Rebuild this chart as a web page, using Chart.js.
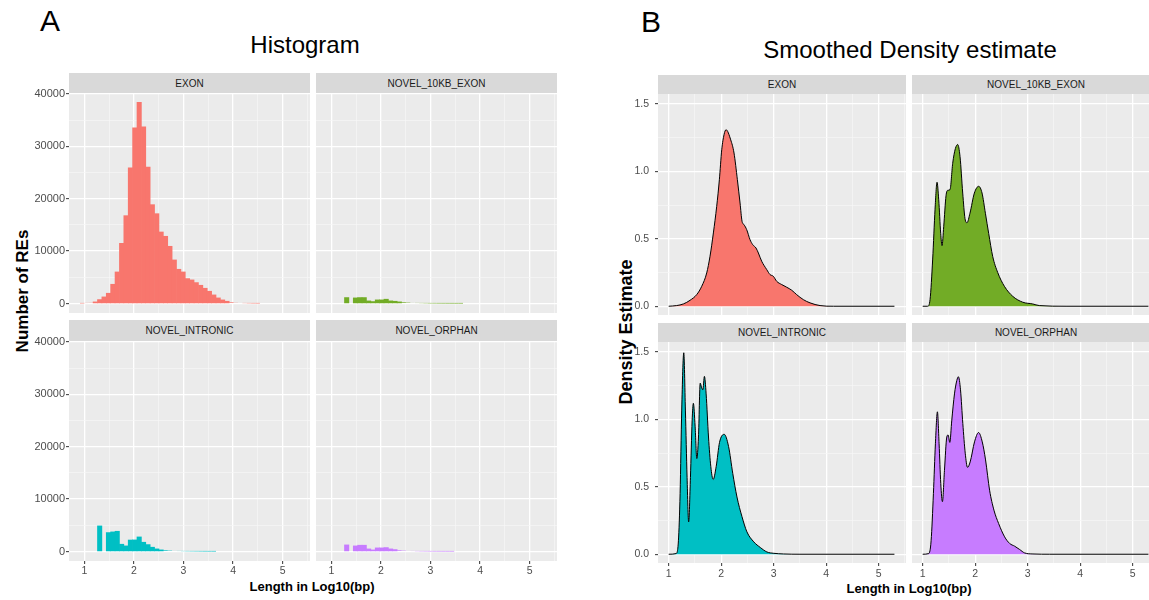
<!DOCTYPE html>
<html><head><meta charset="utf-8">
<script src="https://cdn.jsdelivr.net/npm/chart.js@4/dist/chart.umd.min.js"></script>
<style>
html,body{margin:0;padding:0;background:#fff;width:1149px;height:600px;overflow:hidden;font-family:"Liberation Sans",Arial,sans-serif;position:relative;}
.t{position:absolute;white-space:nowrap;line-height:1;transform:translate(-50%,-50%);color:#000;}
.strip{position:absolute;background:#D9D9D9;color:#1A1A1A;font-size:10px;display:flex;align-items:center;justify-content:center;}
canvas{position:absolute;}
</style></head><body>
<script>
// ---------- DATA ----------
const facets = ['EXON','NOVEL_10KB_EXON','NOVEL_INTRONIC','NOVEL_ORPHAN'];
const colors = ['#F8766D','#72AC26','#00BFC4','#C77CFF'];

const binCenters = [0.9560,1.0445,1.1330,1.2215,1.3100,1.3985,1.4870,1.5755,1.6640,1.7525,
  1.8410,1.9295,2.0180,2.1065,2.1950,2.2835,2.3720,2.4605,2.5490,2.6375,
  2.7260,2.8145,2.9030,2.9915,3.0800,3.1685,3.2570,3.3455,3.4340,3.5225,
  3.6110,3.6995,3.7880,3.8765,3.9650,4.0535,4.1420,4.2305,4.3190,4.4075,
  4.4960,4.5845,4.6730,4.7615,4.8500,4.9385,5.0270,5.1155,5.2040,5.2925];

const histExon = [30,100,150,320,760,1270,1970,3680,6030,11490,
  16760,25900,33520,38350,33710,26030,18860,17140,13650,12830,
  10920,8320,6540,6030,4760,4510,4000,3490,2920,2350,
  1650,1080,700,440,250,150,120,80,50,30,
  20,0,0,0,0,0,0,0,0,0];
const histNovel10kb = [0,0,0,0,1143,0,1080,1143,1143,508,
  380,700,700,830,510,440,320,250,190,130,
  100,80,60,40,30,20,15,10,8,5,
  4,0,0,0,0,0,0,0,0,0,
  0,0,0,0,0,0,0,0,0,0];
const histIntronic = [0,0,0,0,4890,0,3620,3750,3870,1400,
  1080,2200,2220,2790,1780,1330,830,510,320,250,
  190,130,100,80,60,50,40,30,20,15,
  10,0,0,0,0,0,0,0,0,0,
  0,0,0,0,0,0,0,0,0,0];
const histOrphan = [0,0,0,0,1270,0,1080,1210,1210,508,
  318,700,700,762,510,380,250,190,130,100,
  70,50,40,30,20,15,10,8,5,0,
  0,0,0,0,0,0,0,0,0,0,
  0,0,0,0,0,0,0,0,0,0];

const densExonX = [1.0,1.152,1.279,1.406,1.533,1.629,1.724,1.787,1.851,1.914,1.965,2.01,2.054,2.092,
  2.181,2.244,2.308,2.359,2.397,2.435,2.486,2.549,2.6,2.663,2.708,2.771,2.867,2.93,2.994,3.057,
  3.152,3.248,3.343,3.438,3.565,3.692,3.883,4.137,5.3];
const densExonY = [0,0.005,0.017,0.044,0.086,0.148,0.247,0.371,0.544,0.741,0.939,1.161,1.273,1.31,
  1.235,1.137,0.939,0.766,0.63,0.605,0.568,0.494,0.457,0.432,0.395,0.334,0.272,0.235,0.222,0.185,
  0.161,0.141,0.119,0.086,0.049,0.025,0.005,0,0];

const dens10kbX = [1.0,1.095,1.14,1.19,1.235,1.273,1.305,1.343,1.368,1.4,1.444,1.476,1.52,1.571,1.622,1.667,
  1.711,1.762,1.806,1.844,1.9,1.984,2.067,2.13,2.194,2.257,2.333,2.429,2.556,2.714,2.905,3.095,3.22,3.73,5.3];
const dens10kbY = [0,0,0.05,0.35,0.72,0.92,0.79,0.54,0.45,0.59,0.82,0.86,0.865,1.06,1.17,1.2,
  1.11,0.84,0.65,0.62,0.69,0.84,0.89,0.84,0.69,0.54,0.37,0.25,0.148,0.074,0.03,0.017,0.005,0,0];

const densIntronicX = [1.0,1.14,1.185,1.217,1.248,1.287,1.318,1.35,1.38,1.414,1.446,1.47,1.503,1.535,1.567,1.6,1.624,
  1.65,1.68,1.713,1.758,1.802,1.847,1.904,1.968,2.057,2.14,2.22,2.3,2.395,2.49,2.62,2.745,2.87,3.0,3.19,3.5,5.3];
const densIntronicY = [0,0.005,0.1,0.45,1.07,1.495,1.07,0.57,0.24,0.57,0.99,1.12,0.95,0.71,0.87,1.27,1.24,
  1.22,1.32,1.19,0.87,0.65,0.555,0.65,0.83,0.89,0.8,0.6,0.425,0.28,0.166,0.092,0.05,0.017,0.007,0.002,0,0];

const densOrphanX = [1.0,1.115,1.16,1.204,1.242,1.28,1.312,1.344,1.376,1.414,1.459,1.484,1.516,1.554,1.605,1.65,1.68,
  1.72,1.764,1.81,1.853,1.904,1.987,2.064,2.134,2.197,2.274,2.357,2.446,2.56,2.656,2.75,2.847,2.94,3.1,3.42,5.3];
const densOrphanY = [0,0.005,0.1,0.45,0.82,1.057,0.82,0.525,0.39,0.62,0.87,0.885,0.83,0.995,1.19,1.29,1.317,
  1.22,0.97,0.75,0.645,0.685,0.834,0.903,0.834,0.7,0.475,0.327,0.228,0.129,0.08,0.06,0.035,0.01,0.002,0,0];

const xMajor = [1,2,3,4,5];
const xMinor = [1.5,2.5,3.5,4.5,5.5];
const xLabels = ['1','2','3','4','5'];
const histYMajor = [0,10000,20000,30000,40000];
const histYMinor = [5000,15000,25000,35000];
const histYLabels = ['0','10000','20000','30000','40000'];
const densYMajor = [0,0.5,1,1.5];
const densYMinor = [0.25,0.75,1.25];
const densYLabels = ['0.0','0.5','1.0','1.5'];

// ---------- TEXT ----------
function txt(s, cx, cy, size, weight, rot){
  const d=document.createElement('div'); d.className='t'; d.textContent=s;
  d.style.left=cx+'px'; d.style.top=cy+'px'; d.style.fontSize=size+'px';
  if(weight) d.style.fontWeight=weight;
  if(rot) d.style.transform='translate(-50%,-50%) rotate(-90deg)';
  document.body.appendChild(d);
}
function strip(s, l, t, w, h){
  const d=document.createElement('div'); d.className='strip'; d.textContent=s;
  d.style.left=l+'px'; d.style.top=t+'px'; d.style.width=w+'px'; d.style.height=h+'px';
  document.body.appendChild(d);
}
txt('A',50,21,30); txt('B',651,22,30);
txt('Histogram',305,45,24); txt('Smoothed Density estimate',910,50,24);
txt('Number of REs',22,291,17,'bold',true);
txt('Density Estimate',626,332,18,'bold',true);
txt('Length in Log10(bp)',312,586,13,'bold');
txt('Length in Log10(bp)',909,588,13,'bold');

// ---------- CHARTS ----------
const panelBg={id:'panelBg',beforeDraw(ch){const a=ch.chartArea,c=ch.ctx;c.save();c.fillStyle='#EBEBEB';c.fillRect(a.left,a.top,a.right-a.left,a.bottom-a.top);c.restore();}};

function axisCfg(o){
  const all=o.major.concat(o.minor).sort((a,b)=>a-b);
  const isMaj=v=>o.major.includes(v);
  return {
    type:'linear', min:o.min, max:o.max, offset:false, bounds:'data', position:o.pos, display:true,
    border:{display:false},
    grid:{offset:false, color:c=>isMaj(c.tick.value)?'#FFFFFF':'#F6F6F6',
      lineWidth:c=>isMaj(c.tick.value)?1.3:0.7,
      drawTicks:o.show, tickLength:o.tl||3,
      tickColor:c=>isMaj(c.tick.value)?'#333333':'rgba(0,0,0,0)', tickWidth:1},
    ticks:{display:o.show, autoSkip:false, maxRotation:0, minRotation:0, padding:o.pad||1,
      color:'#4D4D4D', font:{family:'Liberation Sans',size:o.fs||10},
      callback:v=>{const i=o.major.indexOf(v);return i>=0?o.labels[i]:'';}},
    afterBuildTicks:s=>{s.ticks=all.map(v=>({value:v}));},
    afterFit:s=>{ if(o.pos==='left') s.width=o.size; else s.height=o.size;
      s.paddingTop=0;s.paddingBottom=0;s.paddingLeft=0;s.paddingRight=0; }
  };
}

function makeCanvas(l,t,w,h){
  const c=document.createElement('canvas'); c.width=w; c.height=h;
  c.style.left=l+'px'; c.style.top=t+'px'; c.style.width=w+'px'; c.style.height=h+'px';
  document.body.appendChild(c); return c;
}

const PADT=10;
function baseOpts(xa, ya){
  return {responsive:false, animation:false, events:[],
    layout:{padding:{top:PADT,left:0,right:0,bottom:0}, autoPadding:false},
    plugins:{legend:{display:false}, tooltip:{enabled:false}, title:{display:false}},
    scales:{x:xa, y:ya}};
}

// Histogram panels
const histData=[histExon,histNovel10kb,histIntronic,histOrphan];
const histPanels=[
  {l:69,t:93,w:241,h:220,yl:true,xl:false},
  {l:316,t:93,w:241,h:220,yl:false,xl:false},
  {l:69,t:341,w:241,h:220,yl:true,xl:true},
  {l:316,t:341,w:241,h:220,yl:false,xl:true}];
const stripH=[[73,20],[73,20],[320,21],[320,21]];
histPanels.forEach((p,i)=>{
  strip(facets[i],p.l,stripH[i][0],p.w,stripH[i][1]);
  const wy=p.yl?69:0, hx=p.xl?22:0;
  const cv=makeCanvas(p.l-wy,p.t-PADT,p.w+wy,p.h+hx+PADT);
  const xa=axisCfg({min:0.6915,max:5.55,major:xMajor,minor:xMinor,labels:xLabels,show:p.xl,pos:'bottom',size:hx,tl:3,pad:1,fs:10.5});
  const ya=axisCfg({min:-1800,max:40150,major:histYMajor,minor:histYMinor,labels:histYLabels,show:p.yl,pos:'left',size:wy,tl:3,pad:1,fs:11});
  new Chart(cv,{type:'bar',
    data:{datasets:[{data:binCenters.map((x,k)=>({x:x,y:histData[i][k]})),
      backgroundColor:colors[i], borderWidth:0, barPercentage:1, categoryPercentage:1,
      inflateAmount:c=>(c.raw&&c.raw.y>300)?0.33:0}]},
    options:baseOpts(xa,ya), plugins:[panelBg]});
});

// Density panels
const densX=[densExonX,dens10kbX,densIntronicX,densOrphanX];
const densY=[densExonY,dens10kbY,densIntronicY,densOrphanY];
const densPanels=[
  {l:658,t:94,w:248,h:221,yl:true,xl:false},
  {l:912,t:94,w:248,h:221,yl:false,xl:false},
  {l:658,t:342,w:248,h:221,yl:true,xl:true},
  {l:912,t:342,w:248,h:221,yl:false,xl:true}];
const dStrip=[[75,19],[75,19],[323,19],[323,19]];
densPanels.forEach((p,i)=>{
  strip(facets[i],p.l,dStrip[i][0],p.w,dStrip[i][1]);
  const wy=p.yl?58:0, hx=p.xl?22:0;
  const cv=makeCanvas(p.l-wy,p.t-PADT,p.w+wy,p.h+hx+PADT);
  const xa=axisCfg({min:0.796,max:5.52,major:xMajor,minor:xMinor,labels:xLabels,show:p.xl,pos:'bottom',size:hx,tl:3,pad:2,fs:10.5});
  const ya=axisCfg({min:-0.065,max:1.575,major:densYMajor,minor:densYMinor,labels:densYLabels,show:p.yl,pos:'left',size:wy,tl:3,pad:6,fs:10.5});
  new Chart(cv,{type:'line',
    data:{datasets:[{data:densX[i].map((x,k)=>({x:x,y:densY[i][k]})),
      borderColor:'#000000', borderWidth:1, backgroundColor:colors[i], fill:'origin',
      pointRadius:0, cubicInterpolationMode:'monotone'}]},
    options:baseOpts(xa,ya), plugins:[panelBg]});
});
</script>
</body></html>
